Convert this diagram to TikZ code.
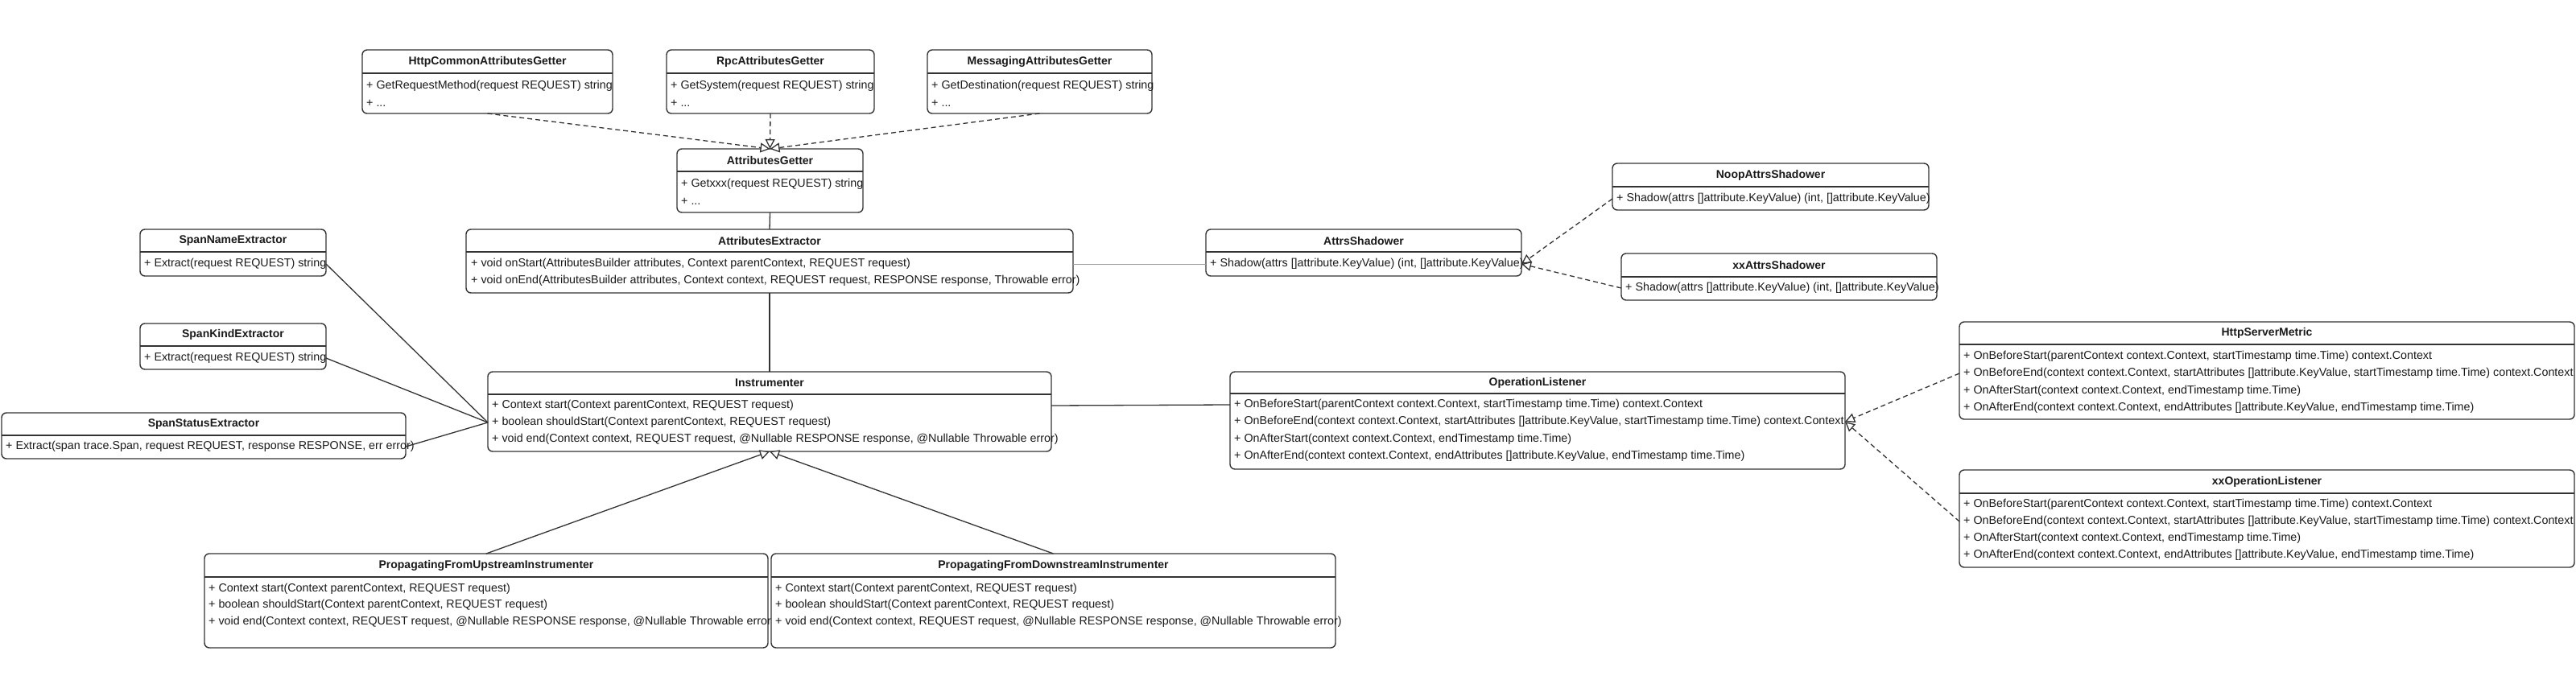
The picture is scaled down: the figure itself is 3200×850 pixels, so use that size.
\documentclass[tikz,border=0pt]{standalone}
\usepackage{fontspec}
\setmainfont{Liberation Sans}
\usetikzlibrary{arrows.meta}
\definecolor{ln}{HTML}{333333}
\definecolor{tx}{HTML}{1A1A1A}
\tikzset{
  classbox/.style={draw=ln, line width=1.4pt, rounded corners=6pt, fill=white, inner sep=0pt, outer sep=0pt},
  sepline/.style={draw=ln, line width=1.4pt},
  titletext/.style={font=\fontsize{14}{16}\selectfont\bfseries, text=tx, inner sep=0pt},
  rowtext/.style={font=\fontsize{14.3}{16}\selectfont, text=tx, anchor=west, inner sep=0pt},
  assoc/.style={draw=ln, line width=1.3pt},
  thinassoc/.style={draw=gray!80, line width=0.9pt},
  realize/.style={draw=ln, line width=1.3pt, dash pattern=on 6pt off 4pt, -{Triangle[open,length=12pt,width=12pt,fill=white]}},
  inherit/.style={draw=ln, line width=1.3pt, -{Triangle[open,length=12pt,width=12pt,fill=white]}},
}
\newcommand{\umlclass}[7]{%
  \node[classbox, minimum width={(#4-(#2))*1pt}, minimum height={(#5-(#3))*1pt}] (#1) at ({(#2+#4)/2},{(#3+#5)/2}) {};
  \draw[sepline] (#2,#6) -- (#4,#6);
  \node[titletext] (#1-t) at ({(#2+#4)/2},{(#3+#6)/2}) {#7};
}
\begin{document}
\begin{tikzpicture}[x=1pt,y=-1pt]
\useasboundingbox (0,0) rectangle (3200,850);
\clip (0,0) rectangle (3200,850);
\fill[white] (0,0) rectangle (3200,850);

% top getters
\umlclass{hcag}{450}{62}{761}{141}{91}{HttpCommonAttributesGetter}
\node[rowtext] (hcag-r1) at (455,107) {+ GetRequestMethod(request REQUEST) string};
\node[rowtext] (hcag-r2) at (455,128) {+ ...};
\umlclass{rpc}{828}{62}{1086}{141}{91}{RpcAttributesGetter}
\node[rowtext] (rpc-r1) at (833,107) {+ GetSystem(request REQUEST) string};
\node[rowtext] (rpc-r2) at (833,128) {+ ...};
\umlclass{msg}{1152}{62}{1431}{141}{91}{MessagingAttributesGetter}
\node[rowtext] (msg-r1) at (1157,107) {+ GetDestination(request REQUEST) string};
\node[rowtext] (msg-r2) at (1157,128) {+ ...};

\umlclass{ag}{841}{185}{1072}{264}{213}{AttributesGetter}
\node[rowtext] (ag-r1) at (846,229) {+ Getxxx(request REQUEST) string};
\node[rowtext] (ag-r2) at (846,250) {+ ...};

% extractors
\umlclass{sne}{174}{285}{405}{343}{313}{SpanNameExtractor}
\node[rowtext] (sne-r1) at (179,328) {+ Extract(request REQUEST) string};
\umlclass{ske}{174}{402}{405}{459}{430}{SpanKindExtractor}
\node[rowtext] (ske-r1) at (179,445) {+ Extract(request REQUEST) string};
\umlclass{sse}{2}{513}{504}{570}{541}{SpanStatusExtractor}
\node[rowtext] (sse-r1) at (7,555) {+ Extract(span trace.Span, request REQUEST, response RESPONSE, err error)};

\umlclass{ae}{579}{285}{1333}{364}{313}{AttributesExtractor}
\node[rowtext] (ae-r1) at (585,328) {+ void onStart(AttributesBuilder attributes, Context parentContext, REQUEST request)};
\node[rowtext] (ae-r2) at (585,349) {+ void onEnd(AttributesBuilder attributes, Context context, REQUEST request, RESPONSE response, Throwable error)};

\umlclass{inst}{606}{462}{1306}{561}{490}{Instrumenter}
\node[rowtext] (inst-r1) at (611,504) {+ Context start(Context parentContext, REQUEST request)};
\node[rowtext] (inst-r2) at (611,525) {+ boolean shouldStart(Context parentContext, REQUEST request)};
\node[rowtext] (inst-r3) at (611,546) {+ void end(Context context, REQUEST request, @Nullable RESPONSE response, @Nullable Throwable error)};

\umlclass{up}{254}{688}{954}{805}{717}{PropagatingFromUpstreamInstrumenter}
\node[rowtext] (up-r1) at (259,732) {+ Context start(Context parentContext, REQUEST request)};
\node[rowtext] (up-r2) at (259,752) {+ boolean shouldStart(Context parentContext, REQUEST request)};
\node[rowtext] (up-r3) at (259,773) {+ void end(Context context, REQUEST request, @Nullable RESPONSE response, @Nullable Throwable error)};

\umlclass{down}{958}{688}{1659}{805}{717}{PropagatingFromDownstreamInstrumenter}
\node[rowtext] (down-r1) at (963,732) {+ Context start(Context parentContext, REQUEST request)};
\node[rowtext] (down-r2) at (963,752) {+ boolean shouldStart(Context parentContext, REQUEST request)};
\node[rowtext] (down-r3) at (963,773) {+ void end(Context context, REQUEST request, @Nullable RESPONSE response, @Nullable Throwable error)};

% shadowers
\umlclass{as}{1498}{285}{1890}{343}{313}{AttrsShadower}
\node[rowtext] (as-r1) at (1503,328) {+ Shadow(attrs []attribute.KeyValue) (int, []attribute.KeyValue)};
\umlclass{noop}{2003}{203}{2396}{261}{232}{NoopAttrsShadower}
\node[rowtext] (noop-r1) at (2008,247) {+ Shadow(attrs []attribute.KeyValue) (int, []attribute.KeyValue)};
\umlclass{xxas}{2014}{315}{2406}{373}{344}{xxAttrsShadower}
\node[rowtext] (xxas-r1) at (2019,358) {+ Shadow(attrs []attribute.KeyValue) (int, []attribute.KeyValue)};

% listeners
\umlclass{ol}{1528}{462}{2292}{583}{489}{OperationListener}
\node[rowtext] (ol-r1) at (1533,503) {+ OnBeforeStart(parentContext context.Context, startTimestamp time.Time) context.Context};
\node[rowtext] (ol-r2) at (1533,524) {+ OnBeforeEnd(context context.Context, startAttributes []attribute.KeyValue, startTimestamp time.Time) context.Context};
\node[rowtext] (ol-r3) at (1533,546) {+ OnAfterStart(context context.Context, endTimestamp time.Time)};
\node[rowtext] (ol-r4) at (1533,567) {+ OnAfterEnd(context context.Context, endAttributes []attribute.KeyValue, endTimestamp time.Time)};

\umlclass{hsm}{2434}{400}{3198}{521}{428}{HttpServerMetric}
\node[rowtext] (hsm-r1) at (2439,443) {+ OnBeforeStart(parentContext context.Context, startTimestamp time.Time) context.Context};
\node[rowtext] (hsm-r2) at (2439,464) {+ OnBeforeEnd(context context.Context, startAttributes []attribute.KeyValue, startTimestamp time.Time) context.Context};
\node[rowtext] (hsm-r3) at (2439,486) {+ OnAfterStart(context context.Context, endTimestamp time.Time)};
\node[rowtext] (hsm-r4) at (2439,507) {+ OnAfterEnd(context context.Context, endAttributes []attribute.KeyValue, endTimestamp time.Time)};

\umlclass{xxol}{2434}{584}{3198}{705}{613}{xxOperationListener}
\node[rowtext] (xxol-r1) at (2439,627) {+ OnBeforeStart(parentContext context.Context, startTimestamp time.Time) context.Context};
\node[rowtext] (xxol-r2) at (2439,648) {+ OnBeforeEnd(context context.Context, startAttributes []attribute.KeyValue, startTimestamp time.Time) context.Context};
\node[rowtext] (xxol-r3) at (2439,669) {+ OnAfterStart(context context.Context, endTimestamp time.Time)};
\node[rowtext] (xxol-r4) at (2439,690) {+ OnAfterEnd(context context.Context, endAttributes []attribute.KeyValue, endTimestamp time.Time)};

% connectors
\draw[realize] (hcag.south) -- (ag.north);
\draw[realize] (rpc.south) -- (ag.north);
\draw[realize] (msg.south) -- (ag.north);
\draw[assoc] (ag.south) -- (ae.north);
\draw[assoc] (ae.south) -- (inst.north);
\draw[thinassoc] (ae.east |- ae-r1) -- (as.west |- as-r1);
\draw[assoc] (sne.east |- sne-r1) -- (inst.west |- inst-r2);
\draw[assoc] (ske.east |- ske-r1) -- (inst.west |- inst-r2);
\draw[assoc] (sse.east |- sse-r1) -- (inst.west |- inst-r2);
\draw[assoc] (inst.east |- inst-r1) -- (ol.west |- ol-r1);
\draw[inherit] (up.north) -- (inst.south);
\draw[inherit] (down.north) -- (inst.south);
\draw[realize] (noop.west |- noop-r1) -- (as.east |- as-r1);
\draw[realize] (xxas.west |- xxas-r1) -- (as.east |- as-r1);
\draw[realize] (hsm.west |- hsm-r2) -- (ol.east |- ol-r2);
\draw[realize] (xxol.west |- xxol-r2) -- (ol.east |- ol-r2);
\end{tikzpicture}
\end{document}
